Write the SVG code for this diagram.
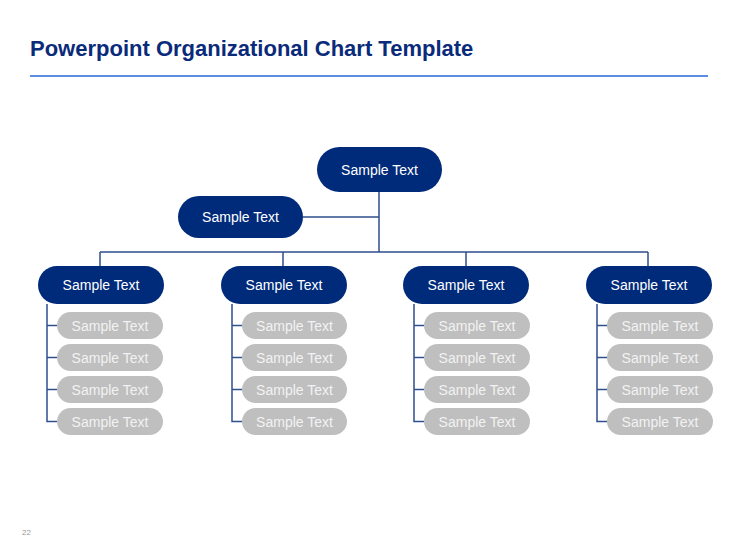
<svg xmlns="http://www.w3.org/2000/svg" width="736" height="552" viewBox="0 0 736 552">
<style>
.t{font-family:"Liberation Sans",Arial,sans-serif;text-anchor:middle;dominant-baseline:central}
.d rect{fill:#002a7a}
.d text{fill:#fff;font-size:14px}
.g rect{fill:#bfbfbf}
.g text{fill:#f2f2f2;font-size:14px}
.c{stroke:#2f4f8f;stroke-width:1.5;fill:none}
</style>
<rect width="736" height="552" fill="#fff"/>
<text x="30" y="56" font-family="Liberation Sans,Arial,sans-serif" font-weight="bold" font-size="22" fill="#0a2a7a">Powerpoint Organizational Chart Template</text>
<line x1="30" y1="76" x2="708" y2="76" stroke="#5b8ee0" stroke-width="2"/>
<text x="22" y="535" font-family="Liberation Sans,Arial,sans-serif" font-size="8" fill="#999">22</text>
<g id="connectors" class="c">
<path d="M379 192V252M303 217H379M100 252H648M100 252V266M283 252V266M466 252V266M648 252V266"/>
<path d="M47 304V421.5H57M47 325.5H57M47 357.5H57M47 389.5H57"/>
<path d="M232 304V421.5H242M232 325.5H242M232 357.5H242M232 389.5H242"/>
<path d="M414 304V421.5H424M414 325.5H424M414 357.5H424M414 389.5H424"/>
<path d="M597 304V421.5H607M597 325.5H607M597 357.5H607M597 389.5H607"/>
</g>
<g id="top" class="d t"><rect x="317" y="147" width="125" height="45" rx="22.5"/><text x="379.5" y="170">Sample Text</text></g>
<g id="assistant" class="d t"><rect x="178" y="196" width="125" height="42" rx="21"/><text x="240.5" y="217">Sample Text</text></g>
<g id="m1" class="d t"><rect x="38" y="266" width="126" height="38" rx="19"/><text x="101" y="285">Sample Text</text></g>
<g id="m2" class="d t"><rect x="221" y="266" width="126" height="38" rx="19"/><text x="284" y="285">Sample Text</text></g>
<g id="m3" class="d t"><rect x="403" y="266" width="126" height="38" rx="19"/><text x="466" y="285">Sample Text</text></g>
<g id="m4" class="d t"><rect x="586" y="266" width="126" height="38" rx="19"/><text x="649" y="285">Sample Text</text></g>
<g class="g t">
<g id="s11"><rect x="57" y="312" width="106" height="27" rx="13.5"/><text x="110" y="325.5">Sample Text</text></g>
<g id="s12"><rect x="57" y="344" width="106" height="27" rx="13.5"/><text x="110" y="357.5">Sample Text</text></g>
<g id="s13"><rect x="57" y="376" width="106" height="27" rx="13.5"/><text x="110" y="389.5">Sample Text</text></g>
<g id="s14"><rect x="57" y="408" width="106" height="27" rx="13.5"/><text x="110" y="421.5">Sample Text</text></g>
<g id="s21"><rect x="242" y="312" width="105" height="27" rx="13.5"/><text x="294.5" y="325.5">Sample Text</text></g>
<g id="s22"><rect x="242" y="344" width="105" height="27" rx="13.5"/><text x="294.5" y="357.5">Sample Text</text></g>
<g id="s23"><rect x="242" y="376" width="105" height="27" rx="13.5"/><text x="294.5" y="389.5">Sample Text</text></g>
<g id="s24"><rect x="242" y="408" width="105" height="27" rx="13.5"/><text x="294.5" y="421.5">Sample Text</text></g>
<g id="s31"><rect x="424" y="312" width="106" height="27" rx="13.5"/><text x="477" y="325.5">Sample Text</text></g>
<g id="s32"><rect x="424" y="344" width="106" height="27" rx="13.5"/><text x="477" y="357.5">Sample Text</text></g>
<g id="s33"><rect x="424" y="376" width="106" height="27" rx="13.5"/><text x="477" y="389.5">Sample Text</text></g>
<g id="s34"><rect x="424" y="408" width="106" height="27" rx="13.5"/><text x="477" y="421.5">Sample Text</text></g>
<g id="s41"><rect x="607" y="312" width="106" height="27" rx="13.5"/><text x="660" y="325.5">Sample Text</text></g>
<g id="s42"><rect x="607" y="344" width="106" height="27" rx="13.5"/><text x="660" y="357.5">Sample Text</text></g>
<g id="s43"><rect x="607" y="376" width="106" height="27" rx="13.5"/><text x="660" y="389.5">Sample Text</text></g>
<g id="s44"><rect x="607" y="408" width="106" height="27" rx="13.5"/><text x="660" y="421.5">Sample Text</text></g>
</g>
</svg>
